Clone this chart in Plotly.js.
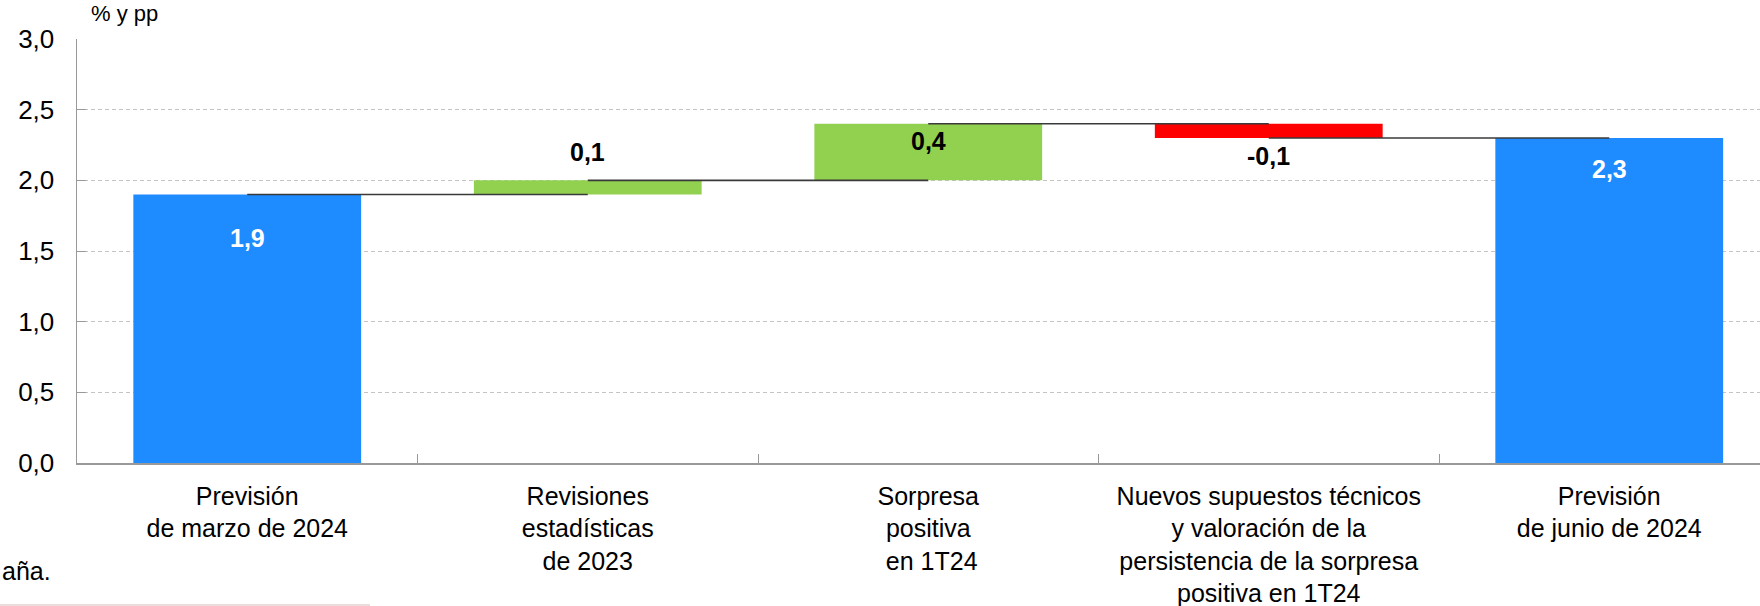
<!DOCTYPE html>
<html>
<head>
<meta charset="utf-8">
<script src="https://cdn.plot.ly/plotly-3.0.1.min.js"></script>
<style>
  html, body { margin: 0; padding: 0; background: #fff; }
  #chart { width: 1760px; height: 606px; }
</style>
</head>
<body>
<div id="chart"></div>
<script>
// ---- Data ----
const categories = [
  "Previsión<br>de marzo de 2024",
  "Revisiones<br>estadísticas<br>de 2023",
  "Sorpresa<br>positiva<br> en 1T24",
  "Nuevos supuestos técnicos<br>y valoración de la<br>persistencia de la sorpresa<br>positiva en 1T24",
  "Previsión<br>de junio de 2024"
];
const values = [1.9, 0.1, 0.4, -0.1, 2.3];
const kinds = ["total", "delta", "delta", "delta", "total"];
const valueLabels = ["1,9", "0,1", "0,4", "-0,1", "2,3"];
const yTickVals = [0, 0.5, 1.0, 1.5, 2.0, 2.5, 3.0];
const unitLabel = "% y pp";
const footnote = "aña.";

// ---- Derived from data ----
const bases = [], tops = [], colors = [];
let running = 0;
values.forEach((v, i) => {
  if (kinds[i] === "total") {
    bases.push(0); running = v; tops.push(v);
    colors.push("#1E8BFF");
  } else {
    bases.push(running); running = +(running + v).toFixed(4); tops.push(running);
    colors.push(v >= 0 ? "#92D050" : "#FF0000");
  }
});

const FONT = "Liberation Sans, Arial, Helvetica, sans-serif";

const traces = [{
  type: "bar",
  x: categories,
  y: values,
  base: bases,
  marker: { color: colors, line: { width: 0 } },
  width: 0.669,
  hoverinfo: "skip",
  showlegend: false
}];

// connectors: from centre of bar i to centre of bar i+1 at level reached after bar i
for (let i = 0; i < categories.length - 1; i++) {
  traces.push({
    type: "scatter", mode: "lines",
    x: [categories[i], categories[i + 1]],
    y: [tops[i], tops[i]],
    line: { color: "#3a3a3a", width: 1.6 },
    hoverinfo: "skip", showlegend: false
  });
}

// label pixel offsets (style)
const labelShift = [-44, 28, -17, -18, -31];
const annotations = valueLabels.map((t, i) => {
  const anchorY = values[i] < 0 ? tops[i] : (kinds[i] === "total" ? values[i] : bases[i] + values[i]);
  return {
    x: categories[i], y: anchorY, xref: "x", yref: "y",
    text: "<b>" + t + "</b>", showarrow: false,
    yshift: labelShift[i], xanchor: "center", yanchor: "middle",
    font: { family: FONT, size: 25, color: kinds[i] === "total" ? "#ffffff" : "#000000" }
  };
});
annotations.push({
  xref: "paper", yref: "paper", x: 12 / 1683, y: 1, yshift: 26,
  xanchor: "left", yanchor: "middle", text: unitLabel, showarrow: false,
  font: { family: FONT, size: 22, color: "#000" }
});
annotations.push({
  xref: "paper", yref: "paper", x: -77 / 1683, y: 0, yshift: -108,
  xanchor: "left", yanchor: "middle", text: footnote, showarrow: false,
  font: { family: FONT, size: 25, color: "#000" }
});

const plotW = 1760 - 77;
const catPx = 340.5;
const layout = {
  width: 1760, height: 606,
  margin: { l: 77, r: 0, t: 39, b: 143, pad: 0 },
  paper_bgcolor: "#fff", plot_bgcolor: "#fff",
  separators: ",.",
  font: { family: FONT, size: 24, color: "#000" },
  barmode: "overlay",
  xaxis: {
    type: "category",
    range: [-0.5, -0.5 + plotW / catPx],
    tickson: "boundaries",
    ticks: "inside", ticklen: 9, tickcolor: "#999", tickwidth: 1,
    showline: true, linecolor: "#999", linewidth: 1.5,
    showgrid: false, zeroline: false,
    tickfont: { family: FONT, size: 25, color: "#000" },
    ticklabelstandoff: 10,
    fixedrange: true
  },
  yaxis: {
    range: [0, 3],
    tickvals: yTickVals,
    tickformat: ".1f",
    ticks: "inside", ticklen: 9, tickcolor: "#999", tickwidth: 1,
    showline: true, linecolor: "#999", linewidth: 1.5,
    showgrid: true, gridcolor: "#c4c4c4", gridwidth: 1, griddash: "4px,3px",
    zeroline: false,
    tickfont: { family: FONT, size: 26, color: "#000" },
    ticklabelstandoff: 16,
    fixedrange: true
  },
  shapes: [{
    type: "line", xref: "paper", yref: "paper",
    x0: -77 / 1683, x1: (370 - 77) / 1683, y0: -142 / 424, y1: -142 / 424,
    line: { color: "#ecdcdc", width: 2 }
  }],
  annotations: annotations
};

Plotly.newPlot("chart", traces, layout, { displayModeBar: false, staticPlot: true });
</script>
</body>
</html>
